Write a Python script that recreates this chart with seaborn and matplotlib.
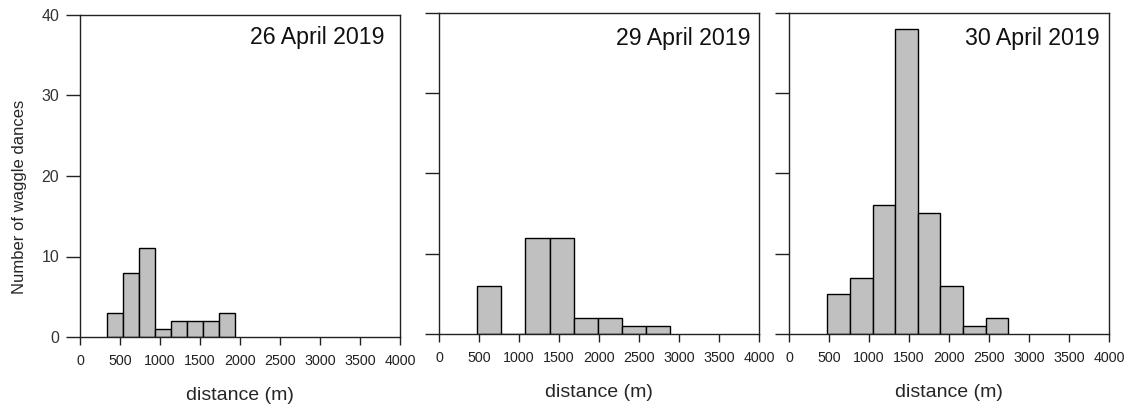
import numpy as np
import matplotlib
matplotlib.use("Agg")
import matplotlib.pyplot as plt
import seaborn as sns

# Waggle-dance distance histograms for three survey days
dates = ["26 April 2019", "29 April 2019", "30 April 2019"]

edges_26 = [340, 540, 740, 940, 1140, 1340, 1540, 1740, 1940]
counts_26 = [3, 8, 11, 1, 2, 2, 2, 3]

edges_29 = [480, 780, 1080, 1380, 1680, 1980, 2280, 2580, 2880]
counts_29 = [6, 0, 12, 12, 2, 2, 1, 1]

edges_30 = [480, 762, 1044, 1326, 1608, 1890, 2172, 2454, 2736]
counts_30 = [5, 7, 16, 38, 15, 6, 1, 2]

x_ticks = [0, 500, 1000, 1500, 2000, 2500, 3000, 3500, 4000]
y_ticks = [0, 10, 20, 30, 40]

sns.set_style("ticks")
plt.rcParams["font.family"] = ["Liberation Sans", "DejaVu Sans"]

fig = plt.figure(figsize=(11.31, 4.12), dpi=100)
W, H = 1131, 412
# (left, top, right, bottom) in pixels for each panel
boxes = [(80, 15, 400, 337), (439, 12.5, 759.3, 334), (789, 12.5, 1109.3, 334)]
title_pos = [(0.953, 0.910), (0.971, 0.900), (0.971, 0.900)]

panels = [(edges_26, counts_26), (edges_29, counts_29), (edges_30, counts_30)]

for i, ((edges, counts), (l, t, r, b)) in enumerate(zip(panels, boxes)):
    ax = fig.add_axes([l / W, 1 - b / H, (r - l) / W, (b - t) / H])
    centers = [(edges[k] + edges[k + 1]) / 2 for k in range(len(counts))]
    sns.histplot(x=centers, weights=counts, bins=edges, ax=ax,
                 color="#c0c0c0", edgecolor="black", linewidth=1.0, alpha=1.0)
    ax.set_xlim(0, 4000)
    ax.set_ylim(0, 40)
    ax.set_xticks(x_ticks)
    ax.set_yticks(y_ticks)
    for s in ax.spines.values():
        s.set_visible(True)
        s.set_color("#222222")
        s.set_linewidth(1.0)
    ax.tick_params(axis="x", direction="out", length=6, width=1.0,
                   color="#222222", labelsize=10.3, pad=6, labelcolor="#222222")
    ax.tick_params(axis="y", direction="out", length=10, width=1.0,
                   color="#222222", labelsize=11.5, pad=5, labelcolor="#333333")
    ax.set_xlabel("distance (m)", fontsize=14, labelpad=14)
    if i == 0:
        ax.set_ylabel("Number of waggle dances", fontsize=12)
        ax.yaxis.set_label_coords(-0.165, 0.435)
    else:
        ax.set_ylabel("")
        ax.tick_params(axis="y", labelleft=False)
    tx, ty = title_pos[i]
    ax.text(tx, ty, dates[i], transform=ax.transAxes, ha="right",
            va="baseline", fontsize=16.7, color="#111111")

fig.savefig("out.png", dpi=100)
